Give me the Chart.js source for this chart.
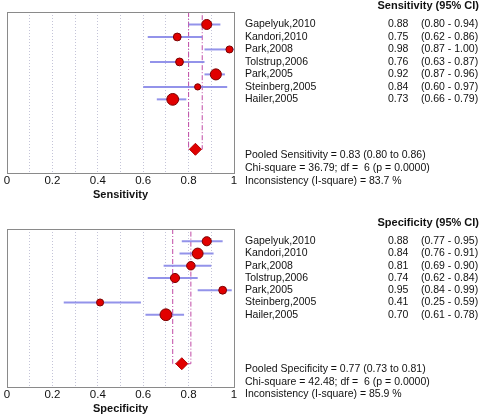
<!DOCTYPE html>
<html>
<head>
<meta charset="utf-8">
<script src="https://cdn.jsdelivr.net/npm/chart.js@4/dist/chart.umd.min.js"></script>
<style>
html, body { margin: 0; padding: 0; background: #fff; }
canvas { display: block; }
</style>
</head>
<body>
<canvas id="sensChart" width="480" height="210"></canvas>
<canvas id="specChart" width="480" height="210"></canvas>
<script>
// studies, top to bottom
var studies = ["Gapelyuk,2010", "Kandori,2010", "Park,2008", "Tolstrup,2006", "Park,2005", "Steinberg,2005", "Hailer,2005"];

var sensEst = [0.88, 0.75, 0.98, 0.76, 0.92, 0.84, 0.73];
var sensLo  = [0.80, 0.62, 0.87, 0.63, 0.87, 0.60, 0.66];
var sensHi  = [0.94, 0.86, 1.00, 0.87, 0.96, 0.97, 0.79];
var sensWeight = [18, 11, 9, 11, 22, 7, 25];
var sensPooled = [0.83, 0.80, 0.86];
var sensStats = ["36.79", "6", "0.0000", "83.7"];

var specEst = [0.88, 0.84, 0.81, 0.74, 0.95, 0.41, 0.70];
var specLo  = [0.77, 0.76, 0.69, 0.62, 0.84, 0.25, 0.61];
var specHi  = [0.95, 0.91, 0.90, 0.84, 0.99, 0.59, 0.78];
var specWeight = [15, 21, 13, 15, 11, 9, 25];
var specPooled = [0.77, 0.73, 0.81];
var specStats = ["42.48", "6", "0.0000", "85.9"];

var xTickLabels = ["0", "0.2", "0.4", "0.6", "0.8", "1"];
var pooledRow = 10;

Chart.defaults.font.family = '"Liberation Sans", Arial, sans-serif';

var FONT = '"Liberation Sans", Arial, sans-serif';

// draws the frame and the text table on the right
var forestText = {
  id: "forestText",
  afterDraw: function (chart, args, o) {
    var ctx = chart.ctx, a = chart.chartArea, y = chart.scales.y;
    ctx.save();
    ctx.strokeStyle = "#8a8a8a";
    ctx.lineWidth = 1;
    ctx.strokeRect(a.left + 0.5, a.top + 0.5, a.right - a.left, a.bottom - a.top);

    ctx.fillStyle = "#111";
    ctx.textBaseline = "middle";
    ctx.font = "bold 11px " + FONT;
    ctx.textAlign = "right";
    ctx.fillText(o.name + " (95% CI)", 479, y.getPixelForValue(-1.48));

    ctx.textAlign = "left";
    ctx.font = "10.5px " + FONT;
    for (var i = 0; i < studies.length; i++) {
      var py = y.getPixelForValue(i);
      ctx.fillText(studies[i], 245, py);
      ctx.fillText(o.est[i].toFixed(2), 388, py);
      ctx.fillText("(" + o.lo[i].toFixed(2) + " - " + o.hi[i].toFixed(2) + ")", 421, py);
    }
    var p = o.pooled, s = o.stats;
    var lines = [
      "Pooled " + o.name + " = " + p[0].toFixed(2) + " (" + p[1].toFixed(2) + " to " + p[2].toFixed(2) + ")",
      "Chi-square = " + s[0] + "; df =  " + s[1] + " (p = " + s[2] + ")",
      "Inconsistency (I-square) = " + s[3] + " %"
    ];
    lines.forEach(function (t, k) {
      ctx.fillText(t, 245, y.getPixelForValue(pooledRow + 0.45 + k * 1.03));
    });
    ctx.restore();
  }
};

function makeForest(id, name, est, lo, hi, weight, pooled, stats, padTop, padBottom) {
  var datasets = [];

  // study point estimates
  datasets.push({
    data: est.map(function (v, i) { return { x: v, y: i }; }),
    pointRadius: weight.map(function (w) { return 1.18 * Math.sqrt(w); }),
    pointBackgroundColor: "#e10000",
    pointBorderColor: "#7a0000",
    pointBorderWidth: 1,
    showLine: false,
    order: 0
  });

  // pooled estimate diamond
  datasets.push({
    data: [{ x: pooled[0], y: pooledRow }],
    pointStyle: "rectRot",
    pointRadius: 6,
    pointBackgroundColor: "#e10000",
    pointBorderColor: "#b00000",
    pointBorderWidth: 1,
    showLine: false,
    order: 0
  });

  // pooled CI bracket
  datasets.push({
    data: [
      { x: pooled[1], y: -1 }, { x: pooled[1], y: pooledRow },
      { x: pooled[2], y: pooledRow }, { x: pooled[2], y: -1 }
    ],
    showLine: true,
    pointRadius: 0,
    borderColor: "#c04aa6",
    borderWidth: 1,
    borderDash: [5, 2, 1, 2],
    order: 2
  });

  // confidence intervals
  for (var i = 0; i < est.length; i++) {
    datasets.push({
      data: [{ x: lo[i], y: i }, { x: hi[i], y: i }],
      showLine: true,
      pointRadius: 0,
      borderColor: "rgba(135,135,232,0.9)",
      borderWidth: 2,
      order: 1
    });
  }

  return new Chart(id, {
    type: "scatter",
    data: { datasets: datasets },
    plugins: [forestText],
    options: {
      responsive: false,
      animation: false,
      layout: { padding: { left: 5, right: 246, top: padTop, bottom: padBottom } },
      plugins: {
        legend: { display: false },
        tooltip: { enabled: false },
        forestText: { name: name, est: est, lo: lo, hi: hi, pooled: pooled, stats: stats }
      },
      scales: {
        x: {
          type: "linear",
          min: 0,
          max: 1,
          border: { display: false, dash: [1, 2] },
          grid: {
            drawTicks: false,
            color: function (c) {
              var v = Math.round(c.tick.value * 10);
              return (v === 0 || v === 10) ? "rgba(0,0,0,0)" : "#c4c4d8";
            }
          },
          ticks: {
            stepSize: 0.1,
            autoSkip: false,
            maxRotation: 0,
            padding: 1,
            color: "#111",
            font: { size: 11.5 },
            callback: function (v) {
              var r = Math.round(v * 10);
              return r % 2 === 0 ? xTickLabels[r / 2] : "";
            }
          },
          title: {
            display: true,
            text: name,
            color: "#111",
            font: { size: 11, weight: "bold" },
            padding: { top: 0, bottom: 0 }
          }
        },
        y: {
          type: "linear",
          reverse: true,
          min: -1,
          max: 11.9,
          display: false
        }
      }
    }
  });
}

makeForest("sensChart", "Sensitivity", sensEst, sensLo, sensHi, sensWeight, sensPooled, sensStats, 12, 8);
makeForest("specChart", "Specificity", specEst, specLo, specHi, specWeight, specPooled, specStats, 19, 4);
</script>
</body>
</html>
